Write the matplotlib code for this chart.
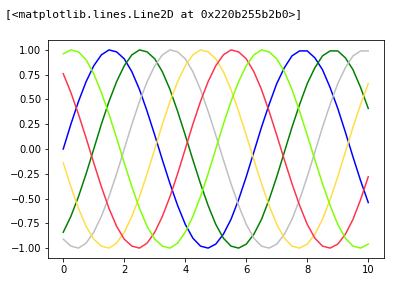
import matplotlib
matplotlib.use("Agg")
import matplotlib.pyplot as plt

# sample points
x = [0.00, 0.25, 0.50, 0.75, 1.00, 1.25, 1.50, 1.75, 2.00, 2.25,
     2.50, 2.75, 3.00, 3.25, 3.50, 3.75, 4.00, 4.25, 4.50, 4.75,
     5.00, 5.25, 5.50, 5.75, 6.00, 6.25, 6.50, 6.75, 7.00, 7.25,
     7.50, 7.75, 8.00, 8.25, 8.50, 8.75, 9.00, 9.25, 9.50, 9.75, 10.00]

blue_y = [0.00, 0.25, 0.48, 0.68, 0.84, 0.95, 1.00, 0.98, 0.91, 0.78,
          0.60, 0.38, 0.14, -0.11, -0.35, -0.57, -0.76, -0.90, -0.98, -1.00,
          -0.96, -0.86, -0.71, -0.51, -0.28, -0.03, 0.22, 0.45, 0.66, 0.82,
          0.94, 0.99, 0.99, 0.92, 0.80, 0.62, 0.41, 0.17, -0.08, -0.32, -0.54]
green_y = [-0.84, -0.68, -0.48, -0.25, 0.00, 0.25, 0.48, 0.68, 0.84, 0.95,
           1.00, 0.98, 0.91, 0.78, 0.60, 0.38, 0.14, -0.11, -0.35, -0.57,
           -0.76, -0.90, -0.98, -1.00, -0.96, -0.86, -0.71, -0.51, -0.28, -0.03,
           0.22, 0.45, 0.66, 0.82, 0.94, 0.99, 0.99, 0.92, 0.80, 0.62, 0.41]
gray_y = [-0.91, -0.98, -1.00, -0.95, -0.84, -0.68, -0.48, -0.25, 0.00, 0.25,
          0.48, 0.68, 0.84, 0.95, 1.00, 0.98, 0.91, 0.78, 0.60, 0.38,
          0.14, -0.11, -0.35, -0.57, -0.76, -0.90, -0.98, -1.00, -0.96, -0.86,
          -0.71, -0.51, -0.28, -0.03, 0.22, 0.45, 0.66, 0.82, 0.94, 0.99, 0.99]
yellow_y = [-0.14, -0.38, -0.60, -0.78, -0.91, -0.98, -1.00, -0.95, -0.84, -0.68,
            -0.48, -0.25, 0.00, 0.25, 0.48, 0.68, 0.84, 0.95, 1.00, 0.98,
            0.91, 0.78, 0.60, 0.38, 0.14, -0.11, -0.35, -0.57, -0.76, -0.90,
            -0.98, -1.00, -0.96, -0.86, -0.71, -0.51, -0.28, -0.03, 0.22, 0.45, 0.66]
red_y = [0.76, 0.57, 0.35, 0.11, -0.14, -0.38, -0.60, -0.78, -0.91, -0.98,
         -1.00, -0.95, -0.84, -0.68, -0.48, -0.25, 0.00, 0.25, 0.48, 0.68,
         0.84, 0.95, 1.00, 0.98, 0.91, 0.78, 0.60, 0.38, 0.14, -0.11,
         -0.35, -0.57, -0.76, -0.90, -0.98, -1.00, -0.96, -0.86, -0.71, -0.51, -0.28]
chartreuse_y = [0.96, 1.00, 0.98, 0.90, 0.76, 0.57, 0.35, 0.11, -0.14, -0.38,
                -0.60, -0.78, -0.91, -0.98, -1.00, -0.95, -0.84, -0.68, -0.48, -0.25,
                0.00, 0.25, 0.48, 0.68, 0.84, 0.95, 1.00, 0.98, 0.91, 0.78,
                0.60, 0.38, 0.14, -0.11, -0.35, -0.57, -0.76, -0.90, -0.98, -1.00, -0.96]

series = [blue_y, green_y, gray_y, yellow_y, red_y, chartreuse_y]
colors = ['blue', 'g', '0.75', '#FFDD44', (1.0, 0.2, 0.3), 'chartreuse']

out_text = "[<matplotlib.lines.Line2D at 0x220b255b2b0>]"

fig = plt.figure(figsize=(394 / 72, 284 / 72), dpi=72)
ax = fig.add_axes([48 / 394, 26 / 284, 335.5 / 394, 218 / 284])

for y, c in zip(series, colors):
    ax.plot(x, y, color=c)

# notebook output line above the chart
fig.text(5 / 394, (284 - 17.5) / 284, out_text, family='DejaVu Sans Mono',
         fontsize=11.2, va='baseline', ha='left', color='black')

fig.savefig("out.png", dpi=72)
